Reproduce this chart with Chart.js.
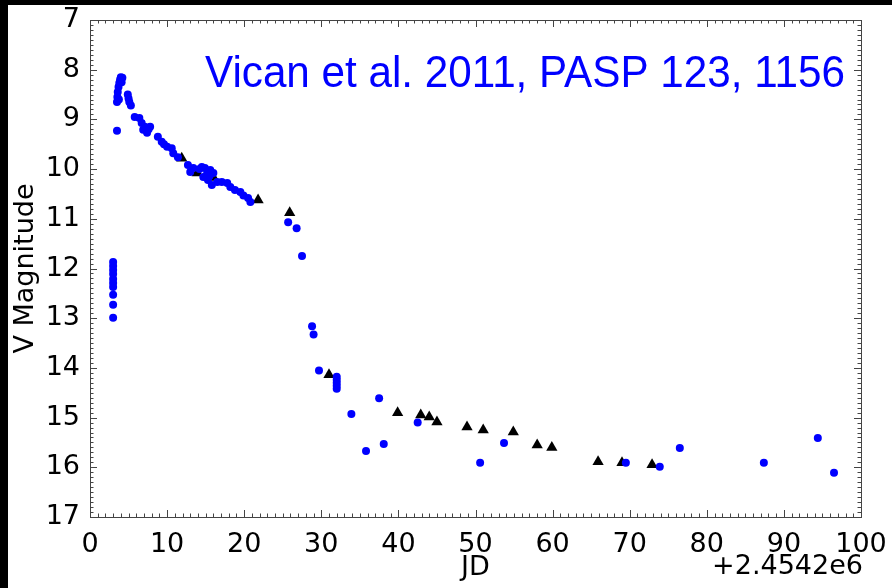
<!DOCTYPE html>
<html>
<head>
<meta charset="utf-8">
<script src="https://cdn.jsdelivr.net/npm/chart.js@4"></script>
<style>
  html, body { margin: 0; padding: 0; background: #000; }
  #wrap { width: 892px; height: 588px; }
</style>
</head>
<body>
<div id="wrap"><canvas id="lightCurve" width="892" height="588"></canvas></div>
<script>
// V band photometry (JD - 2454200)
const blueJD = [
    3.0, 3.0, 3.0, 3.0, 3.0, 3.0, 3.0, 3.0, 3.0, 3.0,
    3.5,
    3.5, 3.55, 3.6, 3.7, 3.8, 3.9, 4.0, 4.2, 4.1, 3.75,
    4.9, 5.0, 5.1, 5.3,
    5.8, 6.4, 6.7, 7.1, 6.9, 7.8, 7.4, 7.6,
    8.8, 9.3, 9.6, 10.0, 10.6, 10.8, 11.4,
    12.7, 13.0, 13.4, 14.5, 14.9, 14.7, 15.2, 15.6, 15.3, 15.8, 16.0, 15.5, 14.2,
    16.5, 17.1, 17.8, 18.2, 18.8, 19.5, 19.9, 20.5, 20.8,
    25.7, 26.8, 27.5,
    28.8, 29.0, 29.7,
    32.0, 32.0, 32.0, 32.0, 32.0,
    33.9, 35.8, 37.5, 38.1, 42.5, 50.6, 53.7, 69.5, 73.9, 76.5, 87.4, 94.4, 96.5
];
const blueMag = [
    11.87, 11.95, 12.03, 12.11, 12.21, 12.29, 12.37, 12.53, 12.73, 12.99,
    9.23,
    8.65, 8.55, 8.45, 8.35, 8.27, 8.2, 8.15, 8.16, 8.25, 8.6,
    8.5, 8.58, 8.65, 8.72,
    8.95, 8.97, 9.07, 9.15, 9.21, 9.15, 9.27, 9.2,
    9.35, 9.45, 9.5, 9.55, 9.58, 9.68, 9.76,
    9.92, 10.06, 9.98, 9.96, 9.98, 10.16, 10.08, 10.02, 10.22, 10.32, 10.08, 10.14, 10.0,
    10.26, 10.26, 10.28, 10.36, 10.42, 10.46, 10.53, 10.58, 10.66,
    11.07, 11.19, 11.75,
    13.16, 13.33, 14.05,
    14.18, 14.24, 14.30, 14.36, 14.42,
    14.93, 15.67, 14.61, 15.53, 15.1, 15.91, 15.51, 15.91, 15.99, 15.61, 15.91, 15.41, 16.11
];
const triJD = [11.9, 13.9, 16.0, 21.8, 25.9, 31.0, 39.9, 42.9, 44.0, 45.0, 48.9, 51.0, 54.9, 58.0, 59.9, 65.9, 69.0, 72.9];
const triMag = [9.78, 10.08, 10.17, 10.62, 10.88, 14.14, 14.9, 14.95, 14.99, 15.09, 15.19, 15.25, 15.29, 15.55, 15.6, 15.89, 15.91, 15.95];

const xTicks = [0, 10, 20, 30, 40, 50, 60, 70, 80, 90, 100];
const yTicks = [7, 8, 9, 10, 11, 12, 13, 14, 15, 16, 17];
const titleText = 'Vican et al. 2011, PASP 123, 1156';
const offsetText = '+2.4542e6';

const toPoints = (xs, ys) => xs.map((x, i) => ({ x: x, y: ys[i] }));
const axisFont = { family: 'DejaVu Sans', size: 27 };

// black frame with white panel behind the chart
const backdrop = {
    id: 'backdrop',
    beforeDraw(chart) {
        const ctx = chart.ctx;
        ctx.save();
        ctx.fillStyle = '#000';
        ctx.fillRect(0, 0, chart.width, chart.height);
        ctx.fillStyle = '#fff';
        ctx.fillRect(8, 5, chart.width - 8, chart.height - 5);
        ctx.restore();
    }
};

// matplotlib style box with inward major/minor ticks on every side
const boxTicks = {
    id: 'boxTicks',
    afterDatasetsDraw(chart) {
        const { ctx, chartArea: a, scales } = chart;
        const xs = scales.x, ys = scales.y;
        ctx.save();
        ctx.strokeStyle = '#444';
        ctx.lineWidth = 1;
        ctx.strokeRect(a.left + 0.5, a.top + 0.5, a.right - a.left, a.bottom - a.top);
        ctx.beginPath();
        for (let v = 0; v <= 100; v += 1) {
            const len = v % 10 === 0 ? 7 : 3.5;
            const px = Math.round(xs.getPixelForValue(v)) + 0.5;
            ctx.moveTo(px, a.bottom); ctx.lineTo(px, a.bottom - len);
            ctx.moveTo(px, a.top); ctx.lineTo(px, a.top + len);
        }
        for (let i = 0; i <= 100; i++) {
            const v = 7 + i / 10;
            const len = i % 10 === 0 ? 7 : 3.5;
            const py = Math.round(ys.getPixelForValue(v)) + 0.5;
            ctx.moveTo(a.left, py); ctx.lineTo(a.left + len, py);
            ctx.moveTo(a.right, py); ctx.lineTo(a.right - len, py);
        }
        ctx.stroke();
        ctx.restore();
    },
    afterDraw(chart) {
        const { ctx, chartArea: a } = chart;
        ctx.save();
        // reference caption
        ctx.fillStyle = '#0000ff';
        ctx.font = '45px "Liberation Sans"';
        ctx.textBaseline = 'alphabetic';
        const w = ctx.measureText(titleText).width;
        ctx.translate(205, 87);
        ctx.scale(640 / w, 1);
        ctx.fillText(titleText, 0, 0);
        ctx.restore();

        // x offset
        ctx.save();
        ctx.fillStyle = '#000';
        ctx.font = '27px "DejaVu Sans"';
        ctx.textAlign = 'right';
        ctx.textBaseline = 'middle';
        ctx.fillText(offsetText, a.right + 2, 567);
        ctx.restore();
    }
};

new Chart(document.getElementById('lightCurve'), {
    type: 'scatter',
    data: {
        datasets: [
            {
                label: 'V',
                data: toPoints(blueJD, blueMag),
                pointStyle: 'circle',
                pointRadius: 4,
                backgroundColor: '#0000ff',
                borderColor: '#0000ff',
                borderWidth: 0
            },
            {
                label: 'V (other)',
                data: toPoints(triJD, triMag),
                pointStyle: 'triangle',
                pointRadius: 6.5,
                backgroundColor: '#000',
                borderColor: '#000',
                borderWidth: 0
            }
        ]
    },
    options: {
        responsive: false,
        animation: false,
        layout: { padding: { left: 0, top: 20, right: 31, bottom: 0 } },
        plugins: {
            legend: { display: false },
            tooltip: { enabled: false }
        },
        scales: {
            x: {
                type: 'linear',
                min: 0,
                max: 100,
                afterBuildTicks: (s) => { s.ticks = xTicks.map(v => ({ value: v })); },
                afterFit: (s) => { s.height = 71; s.paddingLeft = 0; s.paddingRight = 0; },
                ticks: { font: axisFont, color: '#000', padding: 12, maxRotation: 0 },
                grid: { display: false, drawTicks: false },
                border: { display: false },
                title: { display: true, text: 'JD', font: axisFont, color: '#000', padding: { top: 0, bottom: 4 } }
            },
            y: {
                type: 'linear',
                reverse: true,
                min: 7,
                max: 17,
                afterBuildTicks: (s) => { s.ticks = yTicks.map(v => ({ value: v })); },
                afterFit: (s) => { s.width = 90; s.paddingTop = 0; s.paddingBottom = 0; },
                ticks: { font: axisFont, color: '#000', padding: 10 },
                grid: { display: false, drawTicks: false },
                border: { display: false },
                title: { display: true, text: 'V Magnitude', font: axisFont, color: '#000', padding: { top: 10, bottom: 0 } }
            }
        }
    },
    plugins: [backdrop, boxTicks]
});
</script>
</body>
</html>
